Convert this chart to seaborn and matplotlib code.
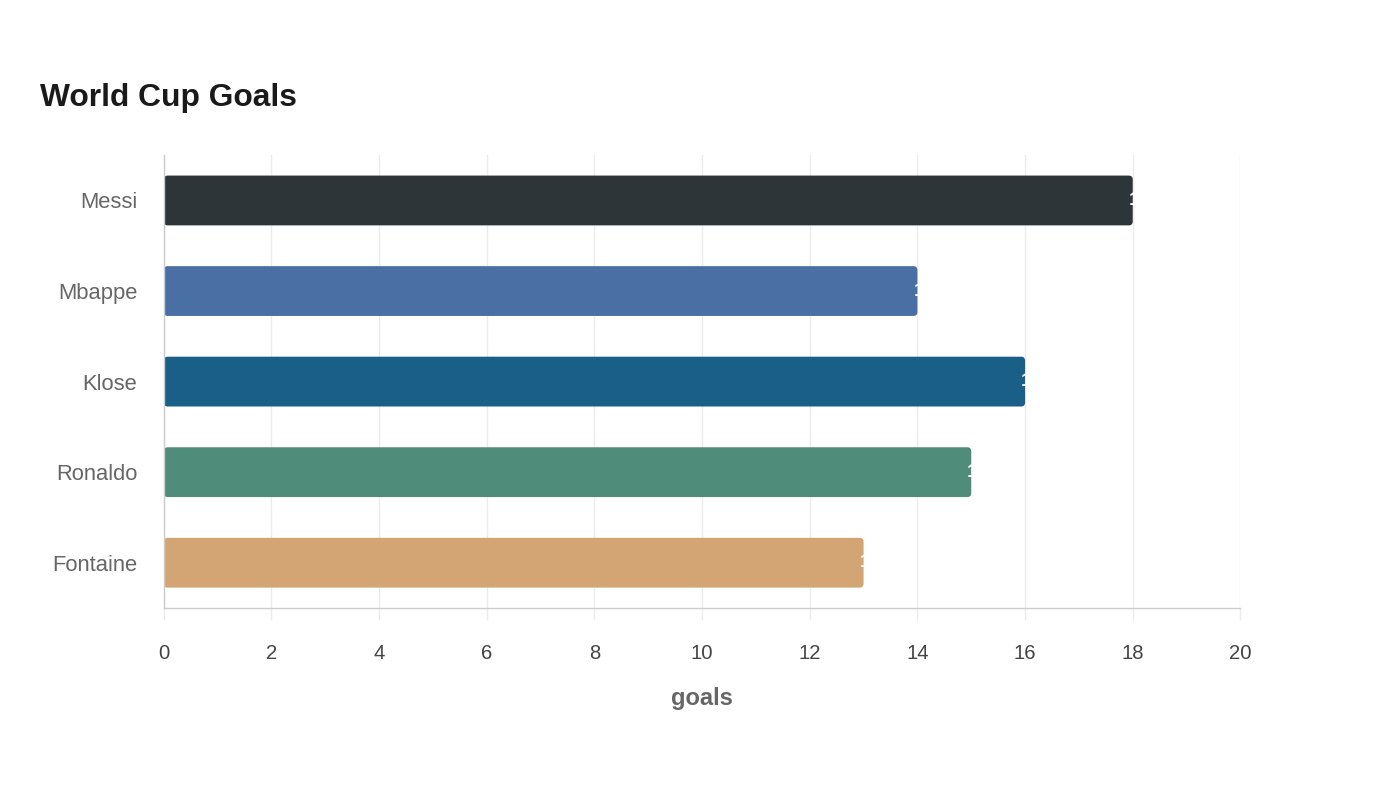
import matplotlib
matplotlib.use("Agg")
import matplotlib.pyplot as plt
import seaborn as sns
import pandas as pd
from matplotlib.patches import FancyBboxPatch

players = ["Messi", "Mbappe", "Klose", "Ronaldo", "Fontaine"]
goals = [18, 14, 16, 15, 13]
colors = ["#2e3538", "#4a6fa5", "#1a5f88", "#4f8c7a", "#d4a574"]
x_ticks = [0, 2, 4, 6, 8, 10, 12, 14, 16, 18, 20]

df = pd.DataFrame({"player": players, "goals": goals})

sns.set_theme(style="white")
plt.rcParams["font.family"] = ["Liberation Sans", "DejaVu Sans"]

fig = plt.figure(figsize=(14, 8), dpi=100)
ax = fig.add_axes([0.117, 0.24, 0.769, 0.566])

sns.barplot(data=df, x="goals", y="player", hue="player", palette=colors,
            order=players, hue_order=players, width=0.55, legend=False,
            ax=ax, saturation=1, edgecolor="none")

ax.set_xlim(0, 20)
ax.set_ylim(4.5, -0.5)

# round the bar corners slightly
px_per_x = 0.769 * 1400 / 20.0
px_per_y = 0.566 * 800 / 5.0
for p in list(ax.patches):
    x0, y0 = p.get_x(), p.get_y()
    w, h = p.get_width(), p.get_height()
    fc = p.get_facecolor()
    p.remove()
    rp = FancyBboxPatch((x0, y0), w, h,
                        boxstyle="round,pad=0,rounding_size=%f" % (4.0 / px_per_x),
                        mutation_aspect=px_per_x / px_per_y,
                        facecolor=fc, edgecolor="none", zorder=2)
    ax.add_patch(rp)

ax.set_xticks(x_ticks)
ax.set_xticklabels([str(t) for t in x_ticks])
ax.grid(axis="x", color="#ebebeb", linewidth=1)
ax.set_axisbelow(True)

for side in ["top", "right"]:
    ax.spines[side].set_visible(False)
for side in ["left", "bottom"]:
    ax.spines[side].set_color("#cccccc")
    ax.spines[side].set_linewidth(1)

ax.tick_params(axis="x", bottom=True, length=8.6, color="#ebebeb", width=1, pad=17.5,
               labelsize=14.6, labelcolor="#444444")
ax.tick_params(axis="y", left=False, length=0, pad=19, labelsize=15.8, labelcolor="#666666")

ax.set_ylabel("")
ax.set_xlabel("goals", fontsize=17, fontweight="bold", color="#666666", labelpad=17)

for i, v in enumerate(goals):
    ax.annotate(str(v), xy=(v, i), xytext=(-3, 0), textcoords="offset points",
                ha="left", va="center", color="white", fontsize=14, fontweight="bold",
                zorder=3)

fig.text(0.0286, 0.877, "World Cup Goals", fontsize=22.9, fontweight="bold",
         color="#1a1a1a", ha="left", va="center")

fig.savefig("out.png", dpi=100, facecolor="white")
